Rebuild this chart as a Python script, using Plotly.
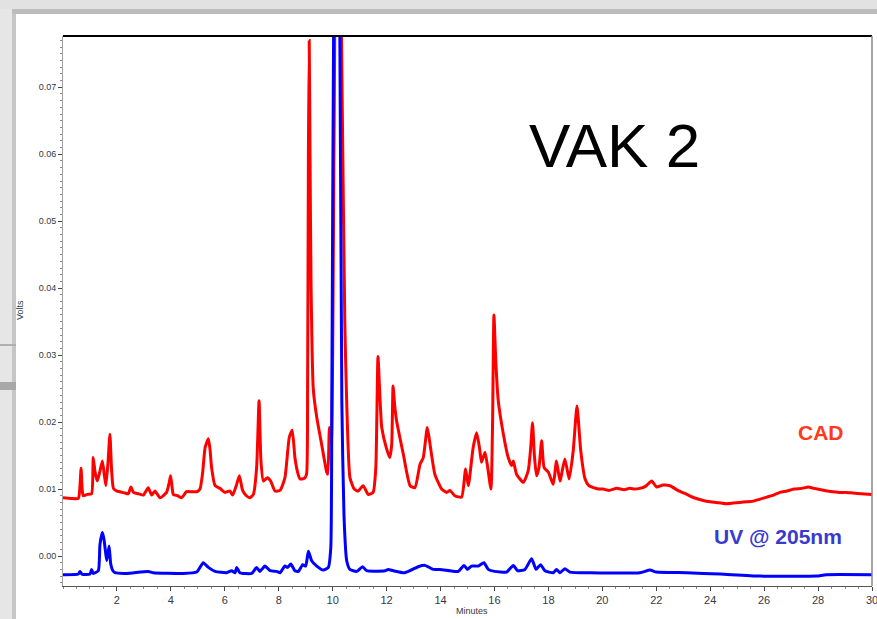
import plotly.graph_objects as go

# ---- data (minutes, volts) ----
cad_t = [0.00, 0.30, 0.57, 0.63, 0.67, 0.71, 0.75, 0.90, 1.06, 1.12, 1.19, 1.27, 1.36, 1.46, 1.53, 1.59,
         1.67, 1.74, 1.80, 1.87, 2.00, 2.11, 2.30, 2.42, 2.52, 2.61, 2.80, 2.98, 3.16, 3.29, 3.41, 3.60,
         3.84, 3.94, 3.99, 4.04, 4.09, 4.25, 4.40, 4.58, 4.80, 4.96, 5.08, 5.18, 5.27, 5.39, 5.45, 5.51,
         5.64, 5.82, 6.01, 6.19, 6.29, 6.44, 6.54, 6.66, 6.80, 6.93, 7.06, 7.18, 7.27, 7.34, 7.43, 7.58,
         7.70, 7.86, 8.05, 8.23, 8.39, 8.50, 8.60, 8.70, 8.79, 8.95, 9.03, 9.07, 9.10, 9.13, 9.16, 9.20,
         9.28, 9.41, 9.59, 9.78, 9.82, 9.88, 9.95, 10.00, 10.08, 10.20, 10.32, 10.45, 10.52, 10.64, 10.80,
         10.95, 11.13, 11.32, 11.50, 11.60, 11.68, 11.75, 11.82, 12.00, 12.12, 12.19, 12.24, 12.30, 12.37,
         12.62, 12.87, 13.05, 13.24, 13.36, 13.51, 13.61, 13.79, 14.04, 14.23, 14.35, 14.53, 14.78, 14.93,
         15.03, 15.21, 15.34, 15.45, 15.52, 15.65, 15.75, 15.87, 15.93, 15.98, 16.05, 16.14, 16.33, 16.51,
         16.64, 16.70, 16.82, 17.07, 17.25, 17.34, 17.41, 17.48, 17.56, 17.65, 17.75, 17.84, 18.00, 18.18,
         18.30, 18.43, 18.61, 18.77, 18.92, 19.06, 19.20, 19.36, 19.50, 19.67, 19.85, 20.03, 20.25, 20.53,
         20.80, 21.02, 21.20, 21.39, 21.60, 21.83, 22.01, 22.25, 22.51, 22.80, 23.13, 23.40, 23.74, 24.00,
         24.20, 24.40, 24.61, 24.85, 25.10, 25.35, 25.60, 25.85, 26.10, 26.35, 26.59, 26.85, 27.10, 27.40,
         27.64, 27.85, 28.10, 28.35, 28.56, 28.80, 29.05, 29.30, 29.60, 30.00]
cad_v = [0.0087, 0.0086, 0.0086, 0.0105, 0.0131, 0.0100, 0.0090, 0.0092, 0.0093, 0.0147, 0.0125, 0.0112,
         0.0125, 0.0142, 0.0122, 0.0105, 0.0140, 0.0182, 0.0130, 0.0101, 0.0097, 0.0096, 0.0094, 0.0093,
         0.0103, 0.0095, 0.0093, 0.0091, 0.0102, 0.0091, 0.0097, 0.0087, 0.0095, 0.0110, 0.0120, 0.0105,
         0.0092, 0.0090, 0.0087, 0.0096, 0.0096, 0.0096, 0.0100, 0.0125, 0.0162, 0.0175, 0.0160, 0.0132,
         0.0105, 0.0101, 0.0095, 0.0097, 0.0091, 0.0107, 0.0120, 0.0098, 0.0090, 0.0087, 0.0092, 0.0132,
         0.0232, 0.0142, 0.0112, 0.0117, 0.0112, 0.0097, 0.0098, 0.0117, 0.0177, 0.0188, 0.0147, 0.0125,
         0.0115, 0.0116, 0.0122, 0.0250, 0.0600, 0.0770, 0.0600, 0.0400, 0.0250, 0.0207, 0.0167, 0.0125,
         0.0122, 0.0192, 0.0170, 0.0300, 0.0800, 0.1200, 0.0800, 0.0350, 0.0230, 0.0117, 0.0100, 0.0097,
         0.0105, 0.0092, 0.0095, 0.0132, 0.0298, 0.0240, 0.0192, 0.0160, 0.0147, 0.0167, 0.0254, 0.0225,
         0.0202, 0.0152, 0.0105, 0.0102, 0.0137, 0.0147, 0.0192, 0.0167, 0.0122, 0.0100, 0.0095, 0.0098,
         0.0090, 0.0088, 0.0130, 0.0105, 0.0162, 0.0184, 0.0160, 0.0140, 0.0155, 0.0132, 0.0100, 0.0200,
         0.0360, 0.0290, 0.0232, 0.0182, 0.0147, 0.0135, 0.0142, 0.0122, 0.0110, 0.0127, 0.0160, 0.0199,
         0.0150, 0.0120, 0.0132, 0.0172, 0.0132, 0.0125, 0.0107, 0.0142, 0.0112, 0.0145, 0.0115, 0.0157,
         0.0224, 0.0157, 0.0115, 0.0105, 0.0102, 0.0100, 0.0100, 0.0098, 0.0101, 0.0099, 0.0101, 0.0100,
         0.0101, 0.0104, 0.0112, 0.0103, 0.0106, 0.0105, 0.0098, 0.0092, 0.0087, 0.0083, 0.0081, 0.0080,
         0.0079, 0.0078, 0.0079, 0.0080, 0.0081, 0.0082, 0.0085, 0.0088, 0.0091, 0.0095, 0.0097, 0.0100,
         0.0101, 0.0103, 0.0101, 0.0099, 0.0097, 0.0096, 0.0095, 0.0095, 0.0094, 0.0093, 0.0092]

uv_t = [0.00, 0.57, 0.63, 0.70, 1.00, 1.06, 1.12, 1.31, 1.37, 1.46, 1.52, 1.56, 1.62, 1.71, 1.77, 1.85,
        1.93, 2.36, 3.16, 3.35, 4.46, 4.96, 5.08, 5.20, 5.39, 5.64, 6.07, 6.25, 6.38, 6.44, 6.56, 7.00,
        7.18, 7.30, 7.49, 7.68, 7.92, 8.05, 8.23, 8.33, 8.45, 8.60, 8.73, 8.89, 9.00, 9.10, 9.22, 9.41,
        9.65, 9.84, 9.93, 9.97, 10.05, 10.15, 10.25, 10.34, 10.42, 10.52, 10.64, 10.89, 11.11, 11.26,
        11.94, 12.06, 12.25, 12.68, 13.17, 13.42, 13.73, 13.98, 14.35, 14.66, 14.87, 15.00, 15.15, 15.40,
        15.61, 15.77, 16.00, 16.45, 16.70, 16.86, 17.13, 17.38, 17.54, 17.71, 17.87, 18.18, 18.30, 18.43,
        18.61, 18.80, 19.54, 21.39, 21.77, 22.00, 23.13, 24.36, 25.84, 27.94, 28.30, 30.00]
uv_v = [-0.0028, -0.0027, -0.0023, -0.0027, -0.0027, -0.0020, -0.0026, -0.0022, 0.0017, 0.0035, 0.0025,
        0.0012, -0.0007, 0.0015, -0.0012, -0.0022, -0.0025, -0.0026, -0.0023, -0.0025, -0.0026, -0.0024,
        -0.0017, -0.0010, -0.0017, -0.0023, -0.0025, -0.0022, -0.0025, -0.0017, -0.0025, -0.0026, -0.0017,
        -0.0023, -0.0015, -0.0022, -0.0023, -0.0025, -0.0015, -0.0017, -0.0012, -0.0022, -0.0023, -0.0013,
        -0.0015, 0.0007, -0.0007, -0.0015, -0.0021, -0.0017, 0.0012, 0.0250, 0.0900, 0.1200, 0.0900,
        0.0230, 0.0060, -0.0007, -0.0020, -0.0023, -0.0016, -0.0022, -0.0022, -0.0020, -0.0022, -0.0025,
        -0.0016, -0.0014, -0.0020, -0.0020, -0.0022, -0.0023, -0.0014, -0.0020, -0.0015, -0.0015, -0.0010,
        -0.0020, -0.0023, -0.0024, -0.0014, -0.0022, -0.0020, -0.0004, -0.0020, -0.0013, -0.0022, -0.0025,
        -0.0020, -0.0025, -0.0019, -0.0024, -0.0025, -0.0025, -0.0021, -0.0024, -0.0025, -0.0027, -0.0030,
        -0.0030, -0.0028, -0.0028]

x_ticks = [2, 4, 6, 8, 10, 12, 14, 16, 18, 20, 22, 24, 26, 28, 30]
y_ticks = [0.00, 0.01, 0.02, 0.03, 0.04, 0.05, 0.06, 0.07]
y_tick_labels = ["0.00", "0.01", "0.02", "0.03", "0.04", "0.05", "0.06", "0.07"]

# ---- figure geometry helpers (pixel -> paper) ----
W, H = 877, 619
ML, MR, MT, MB = 63, 5, 36, 33
PW, PH = W - ML - MR, H - MT - MB


def px(xp):
    return (xp - ML) / PW


def py(yp):
    return (H - MB - yp) / PH


FONT = "Arial, Liberation Sans, sans-serif"

fig = go.Figure()
fig.add_trace(go.Scatter(x=cad_t, y=cad_v, mode="lines", name="CAD",
                         line=dict(color="#ff0000", width=3, shape="spline", smoothing=0.5),
                         hoverinfo="skip"))
fig.add_trace(go.Scatter(x=uv_t, y=uv_v, mode="lines", name="UV @ 205nm",
                         line=dict(color="#0000ff", width=3, shape="spline", smoothing=0.5),
                         hoverinfo="skip"))

shapes = [
    # window chrome (background screenshot frame)
    dict(type="rect", xref="paper", yref="paper", x0=px(0), x1=px(W), y0=py(9), y1=py(0),
         fillcolor="#e2e2e2", line_width=0, layer="below"),
    dict(type="rect", xref="paper", yref="paper", x0=px(0), x1=px(W), y0=py(14), y1=py(9),
         fillcolor="#bcbcbc", line_width=0, layer="below"),
    dict(type="rect", xref="paper", yref="paper", x0=px(0), x1=px(12), y0=py(H), y1=py(9),
         fillcolor="#e6e6e6", line_width=0, layer="below"),
    dict(type="rect", xref="paper", yref="paper", x0=px(12), x1=px(16), y0=py(H), y1=py(14),
         fillcolor="#c6c6c6", line_width=0, layer="below"),
    dict(type="rect", xref="paper", yref="paper", x0=px(0), x1=px(16), y0=py(346), y1=py(344),
         fillcolor="#b0b0b0", line_width=0, layer="below"),
    dict(type="rect", xref="paper", yref="paper", x0=px(0), x1=px(16), y0=py(390), y1=py(382),
         fillcolor="#a8a8a8", line_width=0, layer="below"),
    # plot frame
    dict(type="line", xref="paper", yref="paper", x0=0, x1=1, y0=1, y1=1,
         line=dict(color="#000000", width=2)),
    dict(type="line", xref="paper", yref="paper", x0=1, x1=1, y0=0, y1=1,
         line=dict(color="#8a8a8a", width=1.5)),
]

annotations = [
    dict(text="VAK 2", x=px(614), y=py(145), xref="paper", yref="paper", showarrow=False,
         font=dict(family=FONT, size=62, color="#000000"), xanchor="center", yanchor="middle"),
    dict(text="<b>CAD</b>", x=px(821), y=py(432), xref="paper", yref="paper", showarrow=False,
         font=dict(family=FONT, size=21, color="#ff3a1a"), xanchor="center", yanchor="middle"),
    dict(text="<b>UV @ 205nm</b>", x=px(778), y=py(536), xref="paper", yref="paper", showarrow=False,
         font=dict(family=FONT, size=21, color="#3a3acc"), xanchor="center", yanchor="middle"),
    dict(text="Volts", x=px(20), y=py(310), xref="paper", yref="paper", showarrow=False, textangle=-90,
         font=dict(family=FONT, size=9, color="#333844"), xanchor="center", yanchor="middle"),
    dict(text="Minutes", x=px(472), y=py(611), xref="paper", yref="paper", showarrow=False,
         font=dict(family=FONT, size=9, color="#333844"), xanchor="center", yanchor="middle"),
]

fig.update_layout(
    width=W, height=H,
    margin=dict(l=ML, r=MR, t=MT, b=MB, autoexpand=False),
    paper_bgcolor="#ffffff", plot_bgcolor="#ffffff",
    showlegend=False,
    shapes=shapes,
    annotations=annotations,
    xaxis=dict(range=[0, 30], tickvals=x_ticks, ticks="outside", ticklen=4, tickcolor="#444444",
               showline=True, linecolor="#555555", linewidth=1, showgrid=False, zeroline=False,
               ticklabeloverflow="allow", automargin=False,
               tickfont=dict(family=FONT, size=11, color="#333844"),
               minor=dict(ticks="outside", ticklen=2, tickcolor="#888888", dtick=0.5, tick0=0)),
    yaxis=dict(range=[-0.00448, 0.07766], tickvals=y_ticks, ticktext=y_tick_labels, ticks="outside",
               ticklen=4, tickcolor="#444444", showline=True, linecolor="#a0a0a0", linewidth=1,
               showgrid=False, zeroline=False, automargin=False,
               tickfont=dict(family=FONT, size=9, color="#333844"),
               minor=dict(ticks="outside", ticklen=2, tickcolor="#888888", dtick=0.001, tick0=0)),
)

fig.write_html("out.html", config={"displayModeBar": False},
               post_script="document.body.style.margin='0';document.body.style.padding='0';")
